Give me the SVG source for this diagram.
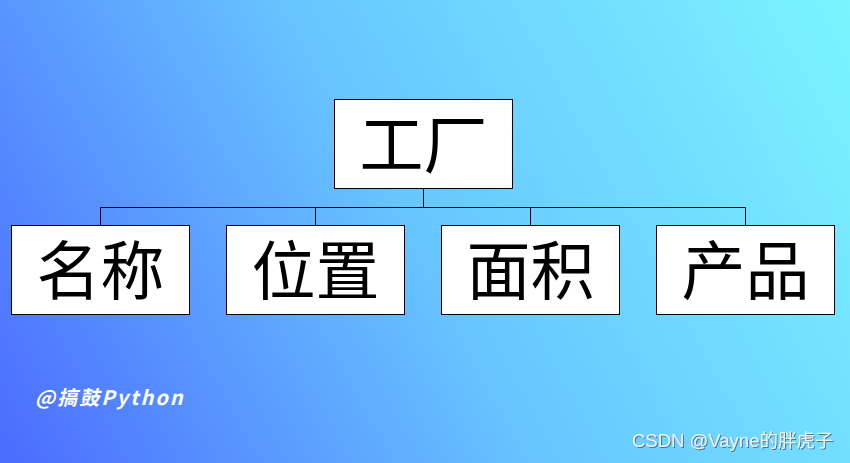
<svg xmlns="http://www.w3.org/2000/svg" width="850" height="463" viewBox="0 0 850 463">
<defs>
<linearGradient id="bg" x1="0" y1="463" x2="850" y2="0" gradientUnits="userSpaceOnUse">
<stop offset="0" stop-color="#4b6bff"/>
<stop offset="0.5" stop-color="#68c6ff"/>
<stop offset="1" stop-color="#7af4ff"/>
</linearGradient>
<filter id="sh" x="-5%" y="-20%" width="110%" height="140%">
<feDropShadow dx="1" dy="1" stdDeviation="0.6" flood-color="#333" flood-opacity="0.6"/>
</filter>
</defs>
<style>
.box{fill:#fff;stroke:#000;stroke-width:1}
.lbl{font-family:"Noto Sans CJK SC","Noto Sans",sans-serif;font-size:64px;fill:#000;text-anchor:middle;dominant-baseline:central}
.con{fill:none;stroke:#000;stroke-width:1}
</style>
<rect x="0" y="0" width="850" height="463" fill="url(#bg)"/>
<g id="connectors">
<path class="con" d="M423.5 188V207.5M100.5 207.5H745.5M100.5 207.5V225M315.5 207.5V225M530.5 207.5V225M745.5 207.5V225"/>
</g>
<g id="node-factory">
<rect class="box" x="334.5" y="99.5" width="178" height="89"/>
<text class="lbl" x="423.5" y="140">工厂</text>
</g>
<g id="node-name">
<rect class="box" x="11.5" y="225.5" width="178" height="89"/>
<text class="lbl" x="100.5" y="266">名称</text>
</g>
<g id="node-location">
<rect class="box" x="226.5" y="225.5" width="178" height="89"/>
<text class="lbl" x="315.5" y="266">位置</text>
</g>
<g id="node-area">
<rect class="box" x="441.5" y="225.5" width="178" height="89"/>
<text class="lbl" x="530.5" y="266">面积</text>
</g>
<g id="node-product">
<rect class="box" x="656.5" y="225.5" width="178" height="89"/>
<text class="lbl" x="745.5" y="266">产品</text>
</g>
<text x="35" y="405" font-family="Noto Sans CJK SC, sans-serif" font-size="20" font-weight="bold" font-style="italic" fill="#fff" letter-spacing="2">@搞鼓Python</text>
<text x="632" y="447" font-family="Liberation Sans, Noto Sans CJK SC, sans-serif" font-size="18.5" fill="#eef2f4" filter="url(#sh)">CSDN @Vayne的胖虎子</text>
</svg>
